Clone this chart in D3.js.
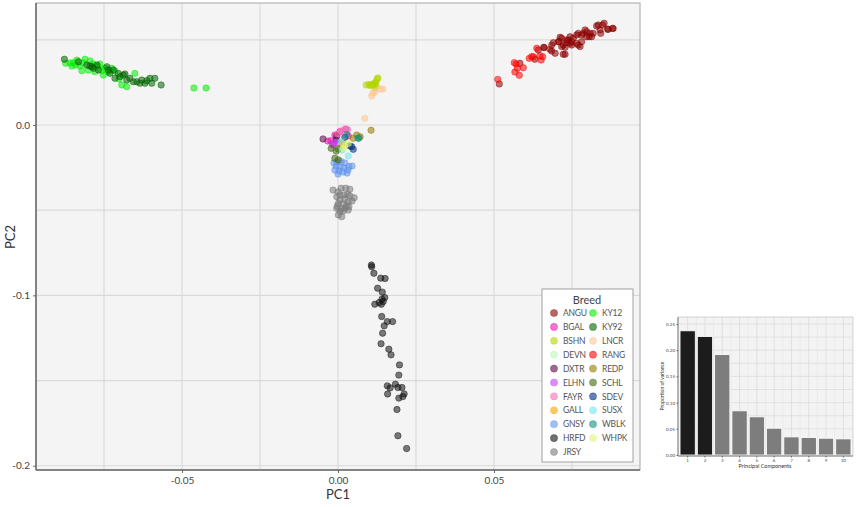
<!DOCTYPE html>
<html><head><meta charset="utf-8">
<script src="https://cdn.jsdelivr.net/npm/d3@7"></script>
<style>body{margin:0;background:#fff}svg{display:block}text{font-family:Lato,"Open Sans",sans-serif}</style>
</head><body><svg id="c" width="856" height="507"></svg>
<script>
const breeds = ["ANGU","BGAL","BSHN","DEVN","DXTR","ELHN","FAYR","GALL","GNSY","HRFD","JRSY","KY12","KY92","LNCR","RANG","REDP","SCHL","SDEV","SUSX","WBLK","WHPK"];
const breedColors = ["#8b0000","#ee10b0","#b4d500","#bcf7bc","#5a0a46","#c53ff7","#f771b4","#ffa300","#6193ee","#111111","#7a7a7a","#00ee00","#006400","#ffc593","#ff0000","#937a00","#3f690d","#002f82","#71e6ee","#0d9382","#def771"];

const ANGU = [[0.0517,0.0241],[0.0583,0.0362],[0.0631,0.0386],[0.0642,0.0440],[0.0660,0.0456],[0.0679,0.0444],[0.0685,0.0469],[0.0690,0.0483],[0.0696,0.0421],[0.0712,0.0515],[0.0717,0.0460],[0.0722,0.0415],[0.0733,0.0499],[0.0744,0.0479],[0.0754,0.0509],[0.0765,0.0528],[0.0770,0.0469],[0.0781,0.0489],[0.0786,0.0538],[0.0797,0.0548],[0.0805,0.0518],[0.0818,0.0538],[0.0829,0.0581],[0.0842,0.0538],[0.0848,0.0587],[0.0864,0.0562],[0.0880,0.0567],[0.0706,0.0489],[0.0660,0.0454],[0.0685,0.0434],[0.0709,0.0489],[0.0717,0.0509],[0.0722,0.0469],[0.0728,0.0415],[0.0738,0.0499],[0.0744,0.0518],[0.0749,0.0489],[0.0765,0.0479],[0.0770,0.0538],[0.0776,0.0460],[0.0781,0.0528],[0.0792,0.0558],[0.0797,0.0518],[0.0808,0.0538],[0.0813,0.0518],[0.0834,0.0587],[0.0840,0.0558],[0.0853,0.0597],[0.0866,0.0562],[0.0882,0.0567],[0.0733,0.0483],[0.0749,0.0469],[0.0728,0.0456]];
const BGAL = [[-0.0033,-0.0094],[-0.0023,-0.0092],[-0.0010,-0.0059],[0.0006,-0.0039],[0.0026,-0.0025],[0.0033,-0.0065],[-0.0017,-0.0113]];
const BSHN = [[0.0090,0.0235],[0.0099,0.0238],[0.0106,0.0235],[0.0112,0.0241],[0.0119,0.0246],[0.0122,0.0252],[0.0125,0.0270],[0.0128,0.0276],[0.0122,0.0229],[0.0115,0.0238],[0.0103,0.0232],[0.0119,0.0217]];
const DEVN = [[0.0006,-0.0123],[0.0019,-0.0088]];
const DXTR = [[-0.0048,-0.0082],[-0.0006,-0.0088],[-0.0004,-0.0065]];
const ELHN = [[-0.0017,-0.0117],[0.0001,-0.0104],[-0.0013,-0.0106]];
const FAYR = [[0.0009,-0.0035],[0.0022,-0.0023],[0.0031,-0.0028],[0.0000,-0.0053]];
const GALL = [[0.0012,-0.0117],[0.0016,-0.0106]];
const GNSY = [[-0.0013,-0.0223],[-0.0003,-0.0217],[0.0010,-0.0214],[0.0022,-0.0223],[0.0035,-0.0244],[-0.0006,-0.0241],[0.0006,-0.0246],[0.0019,-0.0252],[0.0032,-0.0264],[-0.0010,-0.0264],[0.0003,-0.0270],[0.0016,-0.0276],[0.0029,-0.0282],[0.0000,-0.0288],[0.0045,-0.0241]];
const HRFD = [[0.0107,-0.0822],[0.0108,-0.0832],[0.0115,-0.0870],[0.0137,-0.0899],[0.0151,-0.0901],[0.0127,-0.0958],[0.0142,-0.0981],[0.0150,-0.1013],[0.0141,-0.1022],[0.0145,-0.1036],[0.0132,-0.1042],[0.0118,-0.1052],[0.0139,-0.1052],[0.0140,-0.1124],[0.0158,-0.1154],[0.0175,-0.1154],[0.0148,-0.1179],[0.0143,-0.1222],[0.0138,-0.1284],[0.0163,-0.1316],[0.0170,-0.1349],[0.0197,-0.1408],[0.0195,-0.1468],[0.0184,-0.1521],[0.0158,-0.1531],[0.0167,-0.1543],[0.0192,-0.1541],[0.0205,-0.1541],[0.0212,-0.1578],[0.0159,-0.1579],[0.0195,-0.1603],[0.0208,-0.1594],[0.0189,-0.1670],[0.0192,-0.1824],[0.0220,-0.1899]];
const JRSY = [[0.0010,-0.0371],[0.0025,-0.0371],[0.0038,-0.0377],[0.0006,-0.0411],[0.0019,-0.0411],[0.0031,-0.0407],[0.0038,-0.0415],[0.0052,-0.0427],[-0.0004,-0.0421],[0.0006,-0.0440],[0.0022,-0.0434],[0.0033,-0.0450],[0.0001,-0.0460],[0.0017,-0.0463],[0.0028,-0.0474],[0.0035,-0.0480],[-0.0004,-0.0489],[0.0010,-0.0493],[0.0022,-0.0489],[0.0033,-0.0499],[0.0006,-0.0509],[0.0017,-0.0505],[0.0001,-0.0528],[0.0012,-0.0538],[-0.0002,-0.0475],[0.0045,-0.0446],[-0.0016,-0.0382],[0.0000,-0.0393]];
const KY12 = [[-0.0873,0.0362],[-0.0859,0.0364],[-0.0853,0.0346],[-0.0848,0.0366],[-0.0841,0.0352],[-0.0837,0.0381],[-0.0827,0.0346],[-0.0821,0.0319],[-0.0817,0.0364],[-0.0811,0.0386],[-0.0800,0.0323],[-0.0795,0.0376],[-0.0785,0.0358],[-0.0779,0.0313],[-0.0769,0.0346],[-0.0763,0.0358],[-0.0757,0.0319],[-0.0752,0.0293],[-0.0747,0.0333],[-0.0737,0.0311],[-0.0725,0.0333],[-0.0715,0.0317],[-0.0702,0.0270],[-0.0693,0.0235],[-0.0677,0.0225],[-0.0651,0.0303],[-0.0462,0.0217],[-0.0423,0.0217]];
const KY92 = [[-0.0877,0.0386],[-0.0832,0.0371],[-0.0805,0.0352],[-0.0789,0.0342],[-0.0784,0.0333],[-0.0773,0.0352],[-0.0768,0.0323],[-0.0741,0.0342],[-0.0736,0.0323],[-0.0731,0.0303],[-0.0720,0.0323],[-0.0715,0.0274],[-0.0704,0.0303],[-0.0699,0.0283],[-0.0688,0.0293],[-0.0683,0.0299],[-0.0677,0.0264],[-0.0667,0.0274],[-0.0656,0.0254],[-0.0645,0.0254],[-0.0635,0.0245],[-0.0629,0.0264],[-0.0619,0.0245],[-0.0613,0.0260],[-0.0603,0.0274],[-0.0597,0.0245],[-0.0587,0.0274],[-0.0567,0.0235],[-0.0795,0.0346]];
const LNCR = [[0.0108,0.0170],[0.0119,0.0195],[0.0135,0.0211],[0.0144,0.0211],[0.0086,0.0039],[0.0112,0.0188]];
const RANG = [[0.0512,0.0268],[0.0565,0.0366],[0.0571,0.0358],[0.0575,0.0333],[0.0594,0.0336],[0.0567,0.0311],[0.0581,0.0292],[0.0613,0.0391],[0.0621,0.0401],[0.0651,0.0381],[0.0647,0.0407],[0.0637,0.0450],[0.0656,0.0401],[0.0626,0.0401]];
const REDP = [[0.0049,-0.0078],[0.0071,-0.0069],[0.0106,-0.0031],[0.0060,-0.0059]];
const SCHL = [[-0.0022,-0.0137],[0.0001,-0.0141],[-0.0010,-0.0195],[0.0001,-0.0205],[-0.0006,-0.0153]];
const SDEV = [[0.0022,-0.0072],[0.0038,-0.0123],[0.0049,-0.0143],[0.0044,-0.0127]];
const SUSX = [[0.0033,-0.0182],[0.0010,-0.0098],[0.0013,-0.0147]];
const WBLK = [[0.0028,-0.0055],[0.0065,-0.0078],[0.0067,-0.0076]];
const WHPK = [[0.0017,-0.0137],[0.0033,-0.0107],[0.0022,-0.0123]];
const breedPoints = [ANGU,BGAL,BSHN,DEVN,DXTR,ELHN,FAYR,GALL,GNSY,HRFD,JRSY,KY12,KY92,LNCR,RANG,REDP,SCHL,SDEV,SUSX,WBLK,WHPK];

const xTicks = [-0.05, 0.00, 0.05];
const xTickLabels = ["-0.05","0.00","0.05"];
const yTicks = [0.0, -0.1, -0.2];
const yTickLabels = ["0.0","-0.1","-0.2"];

const pcs = ["1","2","3","4","5","6","7","8","9","10"];
const varProp = [0.237,0.226,0.1916,0.0843,0.0728,0.0511,0.0345,0.0333,0.032,0.0307];
const varTicks = [0.00,0.05,0.10,0.15,0.20,0.25];

const svg = d3.select("#c");
const L=36,R=640,T=3,B=470;
const x = d3.scaleLinear().domain([-0.0968,0.0968]).range([L,R]);
const y = d3.scaleLinear().domain([-0.2025,0.0716]).range([B,T]);
const color = d3.scaleOrdinal().domain(breeds).range(breedColors);

svg.append("rect").attr("x",L).attr("y",T).attr("width",R-L).attr("height",B-T).attr("fill","#f4f4f4");
const g = svg.append("g");
const minorX = [-0.075,-0.025,0.025,0.075], minorY=[0.05,-0.05,-0.15];
g.selectAll(".gx").data(xTicks.concat(minorX)).join("line").attr("x1",d=>x(d)).attr("x2",d=>x(d)).attr("y1",T).attr("y2",B).attr("stroke","#dadada").attr("stroke-width",1.2);
g.selectAll(".gy").data(yTicks.concat(minorY)).join("line").attr("y1",d=>y(d)).attr("y2",d=>y(d)).attr("x1",L).attr("x2",R).attr("stroke","#dadada").attr("stroke-width",1.2);
svg.append("rect").attr("x",L).attr("y",T).attr("width",R-L).attr("height",B-T).attr("fill","none").attr("stroke","#b4b4b4").attr("stroke-width",1.2);
svg.append("line").attr("x1",L).attr("x2",L).attr("y1",T).attr("y2",B).attr("stroke","#6a6a6a").attr("stroke-width",1.5);
svg.append("line").attr("x1",L).attr("x2",R).attr("y1",B).attr("y2",B).attr("stroke","#6a6a6a").attr("stroke-width",1.5);

// axes
const xa = svg.append("g").attr("transform",`translate(0,${B})`).call(d3.axisBottom(x).tickValues(xTicks).tickFormat((d,i)=>xTickLabels[i]).tickSize(3).tickPadding(4));
const ya = svg.append("g").attr("transform",`translate(${L},0)`).call(d3.axisLeft(y).tickValues(yTicks).tickFormat((d,i)=>yTickLabels[i]).tickSize(3).tickPadding(3));
[xa,ya].forEach(a=>{a.select(".domain").remove();a.selectAll("line").attr("stroke","#666");a.selectAll("text").attr("fill","#444").style("font-size","10px").style("font-family","Lato,'Open Sans',sans-serif");});
svg.append("text").attr("x",338).attr("y",499).attr("text-anchor","middle").attr("fill","#333").style("font-size","13px").text("PC1");
svg.append("text").attr("transform","translate(15,237) rotate(-90)").attr("text-anchor","middle").attr("fill","#333").style("font-size","13px").text("PC2");

// points
breeds.forEach((b,i)=>{
  svg.append("g").selectAll("circle").data(breedPoints[i]).join("circle")
    .attr("cx",d=>x(d[0])).attr("cy",d=>y(d[1])).attr("r",3.2)
    .attr("fill",color(b)).attr("fill-opacity",0.55)
    .attr("stroke",color(b)).attr("stroke-opacity",0.5).attr("stroke-width",0.9);
});

// legend
const lg = svg.append("g");
lg.append("rect").attr("x",542).attr("y",289).attr("width",91).attr("height",173).attr("fill","#fff").attr("stroke","#a0a0a0").attr("stroke-width",1);
lg.append("text").attr("x",587).attr("y",304).attr("text-anchor","middle").attr("fill","#444").style("font-size","11px").text("Breed");
breeds.forEach((b,i)=>{
  const col = i<11?0:1, row = i<11?i:i-11;
  const cx = col===0?554:593, cy = 313+row*13.9;
  lg.append("circle").attr("cx",cx).attr("cy",cy).attr("r",3.6).attr("fill",color(b)).attr("fill-opacity",0.6).attr("stroke",color(b)).attr("stroke-opacity",0.4).attr("stroke-width",0.8);
  lg.append("text").attr("x",cx+9).attr("y",cy+3.1).attr("fill","#555").style("font-size","8.5px").style("letter-spacing","-0.2px").text(b);
});

// inset
const iL=678,iR=853,iT=317,iB=456;
const bx = d3.scaleBand().domain(pcs).range([679,852]).paddingInner(0.12).paddingOuter(0.06);
const by = d3.scaleLinear().domain([0,0.2634]).range([455,iT]);
svg.append("rect").attr("x",iL).attr("y",iT).attr("width",iR-iL).attr("height",iB-iT).attr("fill","#f3f3f3");
const ig = svg.append("g");
ig.selectAll(".ih").data(d3.range(0,0.2634,0.025)).join("line").attr("x1",iL).attr("x2",iR).attr("y1",d=>by(d)).attr("y2",d=>by(d)).attr("stroke","#dcdcdc").attr("stroke-width",0.8);
ig.selectAll(".iv").data(pcs).join("line").attr("x1",d=>bx(d)+bx.bandwidth()/2).attr("x2",d=>bx(d)+bx.bandwidth()/2).attr("y1",iT).attr("y2",iB).attr("stroke","#dcdcdc").attr("stroke-width",0.8);
ig.selectAll(".iv2").data(pcs.slice(1)).join("line").attr("x1",d=>bx(d)-bx.step()*bx.paddingInner()/2).attr("x2",d=>bx(d)-bx.step()*bx.paddingInner()/2).attr("y1",iT).attr("y2",iB).attr("stroke","#e4e4e4").attr("stroke-width",0.6);
ig.selectAll(".bar").data(varProp).join("rect")
  .attr("x",(d,i)=>bx(pcs[i])).attr("width",bx.bandwidth())
  .attr("y",d=>by(d)).attr("height",d=>by(0)-by(d))
  .attr("fill",(d,i)=>i<2?"#1c1c1c":"#7d7d7d").attr("stroke","#fff").attr("stroke-width",0.8);
svg.append("line").attr("x1",iL).attr("x2",iL).attr("y1",iT).attr("y2",iB).attr("stroke","#666").attr("stroke-width",1);
svg.append("line").attr("x1",iL).attr("x2",iR).attr("y1",iB).attr("y2",iB).attr("stroke","#666").attr("stroke-width",1);
svg.append("rect").attr("x",iL).attr("y",iT).attr("width",iR-iL).attr("height",iB-iT).attr("fill","none").attr("stroke","#bbb").attr("stroke-width",0.6);
const iya = svg.append("g").attr("transform",`translate(${iL},0)`).call(d3.axisLeft(by).tickValues(varTicks).tickFormat(d3.format(".2f")).tickSize(1.5).tickPadding(1.5));
const ixa = svg.append("g").attr("transform",`translate(0,${iB})`).call(d3.axisBottom(bx).tickSize(1.5).tickPadding(1.5));
[iya,ixa].forEach(a=>{a.select(".domain").remove();a.selectAll("line").attr("stroke","#666");a.selectAll("text").attr("fill","#444").style("font-size","4.5px");});
svg.append("text").attr("x",765).attr("y",468).attr("text-anchor","middle").attr("fill","#333").style("font-size","5.5px").text("Principal Components");
svg.append("text").attr("transform","translate(664,386) rotate(-90)").attr("text-anchor","middle").attr("fill","#333").style("font-size","5px").text("Proportion of variance");
</script></body></html>
